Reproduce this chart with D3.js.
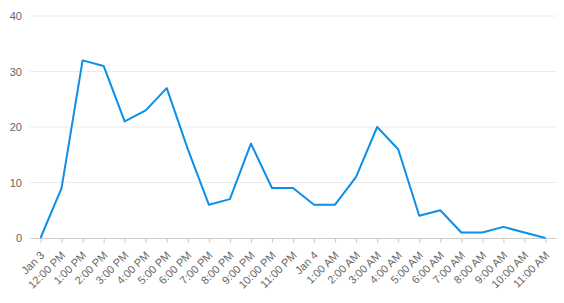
<!DOCTYPE html>
<html>
<head>
<meta charset="utf-8">
<script src="https://cdn.jsdelivr.net/npm/d3@7"></script>
<style>
    body { margin: 0; background: #fff; }
    #chart { width: 564px; height: 303px; }
    text { font-family: "Liberation Sans", Arial, sans-serif; }
</style>
</head>
<body>
<div id="chart"></div>
<script>
// labels along x (hourly)
let hours = ["Jan 3", "12:00 PM", "1:00 PM", "2:00 PM", "3:00 PM", "4:00 PM", "5:00 PM",
    "6:00 PM", "7:00 PM", "8:00 PM", "9:00 PM", "10:00 PM", "11:00 PM", "Jan 4",
    "1:00 AM", "2:00 AM", "3:00 AM", "4:00 AM", "5:00 AM", "6:00 AM", "7:00 AM",
    "8:00 AM", "9:00 AM", "10:00 AM", "11:00 AM"];

let counts = [0, 9, 32, 31, 21, 23, 27, 16, 6, 7, 17, 9, 9, 6, 6, 11, 20, 16, 4, 5, 1, 1, 2, 1, 0];

let yTicks = [0, 10, 20, 30, 40];

let margin = {top: 16, right: 8, bottom: 65, left: 30};
let width = 564 - margin.left - margin.right;
let height = 303 - margin.top - margin.bottom;

let svg = d3.select("#chart")
    .append("svg")
    .attr("width", 564)
    .attr("height", 303)
    .append("g")
    .attr("transform", "translate(" + margin.left + "," + margin.top + ")");

let x = d3.scalePoint()
    .domain(hours)
    .range([0, width])
    .padding(0.5);

let y = d3.scaleLinear()
    .domain([0, 40])
    .range([height, 0]);

// gridlines
svg.selectAll(".grid")
    .data(yTicks.slice(1))
    .enter().append("line")
    .attr("class", "grid")
    .attr("x1", 0)
    .attr("x2", width)
    .attr("y1", d => y(d))
    .attr("y2", d => y(d))
    .attr("stroke", "#ececec")
    .attr("stroke-width", 1);

// y axis labels
let yAxis = d3.axisLeft(y).tickValues(yTicks).tickSize(0).tickPadding(8);
let yg = svg.append("g").attr("class", "y-axis").call(yAxis);
yg.select(".domain").remove();
yg.selectAll("text")
    .attr("fill", "#666")
    .style("font-size", "11px");

// x axis
let xAxis = d3.axisBottom(x).tickSizeInner(5).tickSizeOuter(0);
let xg = svg.append("g")
    .attr("class", "x-axis")
    .attr("transform", "translate(0," + height + ")")
    .call(xAxis);
xg.select(".domain").attr("stroke", "#ccc");
xg.selectAll(".tick line").attr("stroke", "#ccc");
xg.selectAll("text")
    .attr("fill", "#666")
    .style("font-size", "11px")
    .attr("text-anchor", "end")
    .attr("x", 0)
    .attr("y", 0)
    .attr("dy", 0)
    .attr("transform", "translate(4,18) rotate(-45)");

// line
let line = d3.line()
    .x((d, i) => x(hours[i]))
    .y(d => y(d));

svg.append("path")
    .datum(counts)
    .attr("fill", "none")
    .attr("stroke", "#0d8ee8")
    .attr("stroke-width", 2)
    .attr("stroke-linejoin", "round")
    .attr("d", line);
</script>
</body>
</html>
